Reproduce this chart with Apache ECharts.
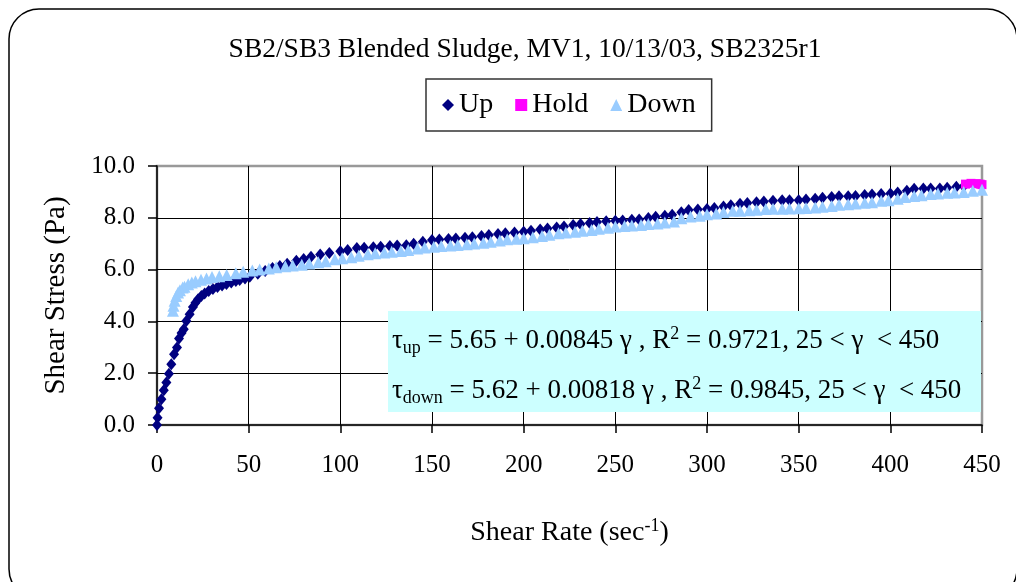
<!DOCTYPE html>
<html>
<head>
<meta charset="utf-8">
<script src="https://cdn.jsdelivr.net/npm/echarts@6/dist/echarts.min.js"></script>
<style>
  html, body { margin: 0; padding: 0; background: #fff; }
  #chart { width: 1016px; height: 582px; }
</style>
</head>
<body>
<div id="chart"></div>
<script>
// Up ramp
const upRate = [0, 0.3, 1.1, 2.4, 3.7, 5.1, 6.5, 7.8, 9.3, 10.9, 12.0, 13.4, 14.6, 16.0, 17.8, 19.6, 21.0, 22.4, 24.2, 26.0,
  28.2, 30.5, 33.0, 35.5, 37.9, 40.5, 43.0, 45.1, 48.0, 50.6, 55, 59, 63, 67, 71, 76, 80, 84, 89, 94,
  100, 104, 109, 113, 118, 122, 127, 131, 136, 140, 145, 150, 154, 159, 163, 168, 172, 177, 181, 186,
  190, 195, 200, 204, 209, 213, 218, 222, 227, 231, 236, 240, 245, 250, 254, 259, 263, 268, 272, 277,
  281, 286, 290, 295, 300, 304, 309, 313, 318, 322, 327, 331, 336, 341, 345, 350, 354, 359, 363, 368,
  372, 377, 381, 386, 390, 395, 400, 404, 409, 413, 418, 422, 427, 431, 436, 440]
const upStress = [0.00, 0.28, 0.65, 0.99, 1.34, 1.64, 1.98, 2.35, 2.73, 2.99, 3.34, 3.55, 3.70, 4.02, 4.28, 4.56, 4.72, 4.86, 4.98, 5.08,
  5.17, 5.25, 5.33, 5.39, 5.44, 5.50, 5.56, 5.60, 5.66, 5.72, 5.84, 5.95, 6.06, 6.14, 6.23, 6.34, 6.41, 6.50, 6.58, 6.64,
  6.71, 6.76, 6.83, 6.84, 6.86, 6.88, 6.91, 6.93, 6.94, 7.00, 7.08, 7.14, 7.16, 7.18, 7.20, 7.23, 7.25, 7.30, 7.34, 7.37,
  7.40, 7.43, 7.46, 7.50, 7.55, 7.59, 7.63, 7.66, 7.72, 7.76, 7.80, 7.84, 7.87, 7.89, 7.90, 7.92, 7.93, 7.99, 8.04, 8.08,
  8.12, 8.21, 8.30, 8.32, 8.34, 8.38, 8.44, 8.48, 8.54, 8.57, 8.60, 8.63, 8.66, 8.68, 8.68, 8.68, 8.71, 8.74, 8.77, 8.80,
  8.83, 8.83, 8.84, 8.88, 8.90, 8.92, 8.94, 8.98, 9.04, 9.12, 9.13, 9.13, 9.13, 9.16, 9.20, 9.22]

// Hold at top shear rate
const holdRate = [441, 444, 447, 449, 450]
const holdStress = [9.30, 9.33, 9.32, 9.30, 9.28]

// Down ramp
const downRate = [450, 445, 440, 435, 431, 426, 422, 417, 413, 408, 404, 399, 395, 390, 386, 381, 377, 372, 368, 363,
  359, 354, 350, 345, 341, 336, 332, 327, 323, 318, 314, 309, 305, 300, 296, 291, 286, 282, 277, 273,
  268, 264, 259, 255, 250, 246, 241, 237, 232, 228, 223, 219, 214, 210, 205, 200, 196, 191, 187, 182,
  178, 173, 169, 164, 160, 155, 151, 146, 142, 137, 133, 128, 124, 119, 115, 110, 106, 101, 97, 92,
  88, 83, 79, 74, 70, 65, 61, 56, 52, 47, 43, 38, 34, 30, 27, 24, 21, 19, 17, 15,
  14, 12.5, 11.5, 10.5, 9.6, 9.0, 8.7]
const downStress = [9.08, 9.04, 9.00, 8.98, 8.97, 8.94, 8.92, 8.87, 8.84, 8.80, 8.74, 8.68, 8.66, 8.60, 8.58, 8.55, 8.52, 8.50, 8.46, 8.43,
  8.40, 8.38, 8.37, 8.36, 8.35, 8.35, 8.34, 8.31, 8.29, 8.27, 8.27, 8.22, 8.17, 8.14, 8.08, 8.05, 7.98, 7.86, 7.82, 7.78,
  7.76, 7.72, 7.70, 7.68, 7.66, 7.62, 7.58, 7.53, 7.50, 7.46, 7.43, 7.40, 7.35, 7.30, 7.25, 7.21, 7.19, 7.17, 7.12, 7.08,
  7.04, 7.01, 6.98, 6.95, 6.93, 6.91, 6.88, 6.85, 6.81, 6.76, 6.72, 6.69, 6.66, 6.63, 6.59, 6.53, 6.48, 6.44, 6.40, 6.32,
  6.28, 6.24, 6.19, 6.16, 6.13, 6.09, 6.04, 6.00, 5.97, 5.92, 5.86, 5.79, 5.74, 5.71, 5.66, 5.61, 5.55, 5.50, 5.43, 5.34,
  5.31, 5.20, 5.12, 4.98, 4.80, 4.60, 4.41]

const seriesNames = ['Up', 'Hold', 'Down']
const fitLines = [
  '{t|τ}{sub|up}{t| = 5.65 + 0.00845 γ , R}{sup|2}{t| = 0.9721, 25 < γ  < 450}',
  '{t|τ}{sub|down}{t| = 5.62 + 0.00818 γ , R}{sup|2}{t| = 0.9845, 25 < γ  < 450}'
]

const FONT = '"Liberation Serif", "Times New Roman", serif'

const pairs = (xs, ys) => xs.map((x, i) => [x, ys[i]])

const richFit = {
  t: { fontSize: 27, fontFamily: FONT, color: '#000' },
  sub: { fontSize: 18, fontFamily: FONT, color: '#000', verticalAlign: 'bottom', padding: [12, 0, 0, 0] },
  sup: { fontSize: 18, fontFamily: FONT, color: '#000', verticalAlign: 'top', padding: [0, 0, 14, 0] }
}

const chart = echarts.init(document.getElementById('chart'))

const option = {
  backgroundColor: '#fff',
  animation: false,
  title: {
    text: 'SB2/SB3 Blended Sludge, MV1, 10/13/03, SB2325r1',
    left: 520,
    top: 31,
    textAlign: 'center',
    textStyle: { fontFamily: FONT, fontSize: 27.5, fontWeight: 'normal', color: '#000' }
  },
  legend: {
    data: seriesNames,
    left: 426,
    top: 79,
    padding: [12, 16, 12, 16],
    itemGap: 22,
    itemWidth: 12,
    itemHeight: 12,
    borderColor: '#333',
    borderWidth: 1.5,
    textStyle: { fontFamily: FONT, fontSize: 28, color: '#000' }
  },
  grid: {
    left: 157,
    right: 34,
    top: 166,
    bottom: 157,
    show: true,
    borderColor: '#999',
    borderWidth: 2.5,
    outerBoundsMode: 'none'
  },
  xAxis: {
    type: 'value',
    min: 0,
    max: 450,
    interval: 50,
    name: 'Shear Rate (sec{sup|-1})',
    nameLocation: 'middle',
    nameGap: 92,
    nameTextStyle: {
      fontFamily: FONT, fontSize: 28, color: '#000',
      rich: { sup: { fontFamily: FONT, fontSize: 18, color: '#000', verticalAlign: 'top', padding: [0, 0, 14, 0] } }
    },
    axisLine: { lineStyle: { color: '#000', width: 1.5 } },
    axisTick: { show: true, length: 8, lineStyle: { color: '#000', width: 1.5 } },
    axisLabel: { fontFamily: FONT, fontSize: 25, color: '#000', margin: 28 },
    splitLine: { show: true, showMaxLine: false, showMinLine: false, lineStyle: { color: '#000', width: 1 } }
  },
  yAxis: {
    type: 'value',
    min: 0,
    max: 10,
    interval: 2,
    name: 'Shear Stress (Pa)',
    nameLocation: 'middle',
    nameGap: 86,
    nameTextStyle: { fontFamily: FONT, fontSize: 29, color: '#000' },
    axisLine: { show: true, lineStyle: { color: '#000', width: 1.5 } },
    axisTick: { show: true, length: 9, lineStyle: { color: '#000', width: 1.5 } },
    axisLabel: { fontFamily: FONT, fontSize: 25, color: '#000', margin: 22, formatter: v => v.toFixed(1) },
    splitLine: { show: true, showMaxLine: false, showMinLine: false, lineStyle: { color: '#000', width: 1 } }
  },
  series: [
    {
      name: 'Up',
      type: 'scatter',
      symbol: 'diamond',
      symbolSize: [10, 12],
      itemStyle: { color: '#000080', opacity: 1 },
      data: pairs(upRate, upStress)
    },
    {
      name: 'Hold',
      type: 'scatter',
      symbol: 'rect',
      symbolSize: 9,
      itemStyle: { color: '#FF00FF', opacity: 1 },
      data: pairs(holdRate, holdStress)
    },
    {
      name: 'Down',
      type: 'scatter',
      symbol: 'triangle',
      symbolSize: 12,
      itemStyle: { color: '#99CCFF', opacity: 1 },
      data: pairs(downRate, downStress)
    }
  ],
  graphic: [
    {
      type: 'rect',
      z: -10,
      silent: true,
      shape: { x: 9, y: 9, width: 1008, height: 590, r: 30 },
      style: { fill: 'none', stroke: '#000', lineWidth: 1.5 }
    },
    {
      type: 'rect',
      z: 100,
      silent: true,
      shape: { x: 388, y: 311, width: 593, height: 101 },
      style: { fill: '#CCFFFF', stroke: 'none' }
    },
    {
      type: 'text',
      z: 101,
      left: 392,
      top: 325,
      style: { text: fitLines[0], rich: richFit, font: '27px ' + FONT, fill: '#000' }
    },
    {
      type: 'text',
      z: 101,
      left: 392,
      top: 375,
      style: { text: fitLines[1], rich: richFit, font: '27px ' + FONT, fill: '#000' }
    }
  ]
}

chart.setOption(option)
</script>
</body>
</html>
